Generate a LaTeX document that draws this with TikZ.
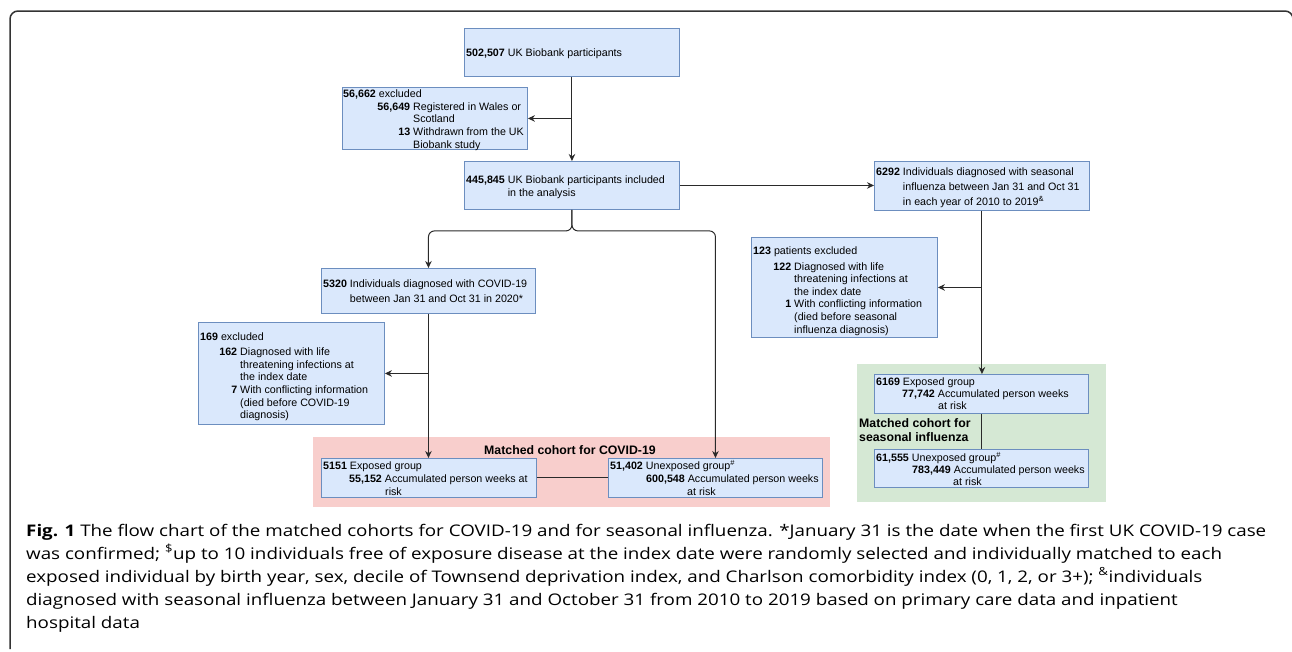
\documentclass[tikz,border=0pt]{standalone}
\usepackage{fontspec}
\setmainfont{Liberation Sans}
\newfontfamily\figcapfont{Open Sans}
\usetikzlibrary{arrows.meta}
\definecolor{boxfill}{HTML}{DAE8FC}
\definecolor{boxdraw}{HTML}{6C8EBF}
\definecolor{pinkfill}{HTML}{F8CECC}
\definecolor{greenfill}{HTML}{D5E8D4}
\definecolor{linec}{HTML}{2A2A2A}
\definecolor{framec}{HTML}{333333}
\newcommand{\bx}[2]{{\fontsize{10.7}{#1}\selectfont\begin{tabular}[t]{@{}l@{}}#2\end{tabular}}}
\newcommand{\hangnum}[2]{\makebox[#1][r]{\textbf{#2}}\hspace{3pt}}
\newcommand{\capLA}{\textbf{Fig. 1} The flow chart of the matched cohorts for COVID-19 and for seasonal influenza. *January 31 is the date when the first UK COVID-19 case}
\newcommand{\capLB}{was confirmed; \textsuperscript{\$}up to 10 individuals free of exposure disease at the index date were randomly selected and individually matched to each}
\newcommand{\capLC}{exposed individual by birth year, sex, decile of Townsend deprivation index, and Charlson comorbidity index (0, 1, 2, or 3+); \textsuperscript{\&}individuals}
\newcommand{\capLD}{diagnosed with seasonal influenza between January 31 and October 31 from 2010 to 2019 based on primary care data and inpatient}
\newcommand{\capLE}{hospital data}
\newcommand{\capsz}{\figcapfont\fontsize{16}{20}\selectfont}
\newlength\capw
\begin{document}
\settowidth\capw{\capsz\capLA}%
\pgfmathsetmacro\capsx{1240/\capw}%
\begin{tikzpicture}[x=1pt,y=-1pt,
  box/.style={draw=boxdraw, fill=boxfill, line width=0.9pt, inner sep=0pt, anchor=north west},
  txt/.style={inner sep=0pt, anchor=base west, font=\fontsize{10.7}{12.6}\selectfont},
  arr/.style={draw=linec, line width=1pt, -{Stealth[length=7pt,width=6.5pt]}},
  ln/.style={draw=linec, line width=1pt},
  captxt/.style={inner sep=0pt, anchor=base west}]
\useasboundingbox (0,0) rectangle (1292,651);
% frame
\draw[framec, line width=1.5pt, rounded corners=8pt] (10,649) -- (10,11) -- (1293,11) -- (1293,652);
% background groups
\fill[pinkfill] (313,437) rectangle (830,507);
\fill[greenfill] (857,364) rectangle (1106,502);
% boxes
\node[box, minimum width=215pt, minimum height=48pt] (A) at (464,28) {};
\node[box, minimum width=185pt, minimum height=62pt] (B) at (342,87) {};
\node[box, minimum width=215pt, minimum height=48pt] (C) at (464,161) {};
\node[box, minimum width=215pt, minimum height=49pt] (D) at (874,161) {};
\node[box, minimum width=186pt, minimum height=100pt] (E) at (751,237) {};
\node[box, minimum width=214pt, minimum height=45pt] (F) at (321,268) {};
\node[box, minimum width=186pt, minimum height=102pt] (G) at (198,322) {};
\node[box, minimum width=215pt, minimum height=39pt] (H) at (321,458) {};
\node[box, minimum width=214pt, minimum height=39pt] (I) at (608,458) {};
\node[box, minimum width=214pt, minimum height=39pt] (J) at (874,374) {};
\node[box, minimum width=214pt, minimum height=38pt] (K) at (874,449) {};
% texts
\node[txt] (At) at (466,56) {\textbf{502,507} UK Biobank participants};
\node[txt] (Bt) at (343,97.5) {\bx{12.7}{\textbf{56,662} excluded\\
  \hangnum{67pt}{56,649}Registered in Wales or\\
  \hangnum{67pt}{}Scotland\\
  \hangnum{67pt}{13}Withdrawn from the UK\\
  \hangnum{67pt}{}Biobank study}};
\node[txt] (Ct) at (466,183.3) {\bx{13}{\textbf{445,845} UK Biobank participants included\\
  \phantom{\textbf{445,845}} in the analysis}};
\node[txt] (Dt) at (876,175) {\bx{15}{\textbf{6292} Individuals diagnosed with seasonal\\
  \phantom{\textbf{6292}} influenza between Jan 31 and Oct 31\\
  \phantom{\textbf{6292}} in each year of 2010 to 2019\textsuperscript{\&}}};
\node[txt] (Et) at (753,254) {\bx{12.6}{\textbf{123} patients excluded\\[3.4pt]
  \hangnum{38pt}{122}Diagnosed with life\\
  \hangnum{38pt}{}threatening infections at\\
  \hangnum{38pt}{}the index date\\
  \hangnum{38pt}{1}With conflicting information\\
  \hangnum{38pt}{}(died before seasonal\\
  \hangnum{38pt}{}influenza diagnosis)}};
\node[txt] (Ft) at (323,287.3) {\bx{15}{\textbf{5320} Individuals diagnosed with COVID-19\\
  \phantom{\textbf{5320}} between Jan 31 and Oct 31 in 2020*}};
\node[txt] (Gt) at (200,340.7) {\bx{12.6}{\textbf{169} excluded\\[2.4pt]
  \hangnum{37pt}{162}Diagnosed with life\\
  \hangnum{37pt}{}threatening infections at\\
  \hangnum{37pt}{}the index date\\
  \hangnum{37pt}{7}With conflicting information\\
  \hangnum{37pt}{}(died before COVID-19\\
  \hangnum{37pt}{}diagnosis)}};
\node[txt] (Ht) at (323,469) {\bx{13}{\textbf{5151} Exposed group\\
  \hspace*{26pt}\textbf{55,152} Accumulated person weeks at\\
  \hspace*{62pt}risk}};
\node[txt] (It) at (610,469) {\bx{13}{\textbf{51,402} Unexposed group\textsuperscript{\#}\\
  \hspace*{36pt}\textbf{600,548} Accumulated person weeks\\
  \hspace*{77pt}at risk}};
\node[txt] (Jt) at (876,385.7) {\bx{12}{\textbf{6169} Exposed group\\
  \hspace*{26pt}\textbf{77,742} Accumulated person weeks\\
  \hspace*{62pt}at risk}};
\node[txt] (Kt) at (876,461.7) {\bx{12}{\textbf{61,555} Unexposed group\textsuperscript{\#}\\
  \hspace*{36pt}\textbf{783,449} Accumulated person weeks\\
  \hspace*{77pt}at risk}};
% group titles
\node[inner sep=0pt, anchor=base, font=\bfseries\fontsize{12.3}{14}\selectfont] (pinkt) at (570,454) {Matched cohort for COVID-19};
\node[inner sep=0pt, anchor=base west] (greent) at (859,427.5) {{\bfseries\fontsize{12.3}{14}\selectfont\begin{tabular}[t]{@{}l@{}}Matched cohort for\\ seasonal influenza\end{tabular}}};
% connectors
\coordinate (jb) at (A.south |- B.east);
\draw[arr] (A.south) -- (C.north);
\draw[arr] (jb) -- (B.east);
\draw[arr] (C.east) -- (D.west |- C.east);
\draw[arr, rounded corners=6pt] (C.south) -- ++(0,21) -| (F.north);
\draw[arr, rounded corners=6pt] (C.south) -- ++(0,21) -| (I.north);
\draw[arr] (F.south) -- (F.south |- H.north);
\coordinate (jg) at (F.south |- G.east);
\draw[arr] (jg) -- (G.east);
\draw[arr] (D.south) -- (D.south |- J.north);
\coordinate (je) at (D.south |- E.east);
\draw[arr] (je) -- (E.east);
\draw[ln] (H.east) -- (I.west |- H.east);
\draw[ln] (J.south) -- (J.south |- K.north);
% caption
\node[captxt] (cap1) at (26,536) {\scalebox{\capsx}[1]{\capsz\capLA}};
\node[captxt] (cap2) at (26,559) {\scalebox{\capsx}[1]{\capsz\capLB}};
\node[captxt] (cap3) at (26,582) {\scalebox{\capsx}[1]{\capsz\capLC}};
\node[captxt] (cap4) at (26,605) {\scalebox{\capsx}[1]{\capsz\capLD}};
\node[captxt] (cap5) at (26,628) {\scalebox{\capsx}[1]{\capsz\capLE}};
\end{tikzpicture}
\end{document}
